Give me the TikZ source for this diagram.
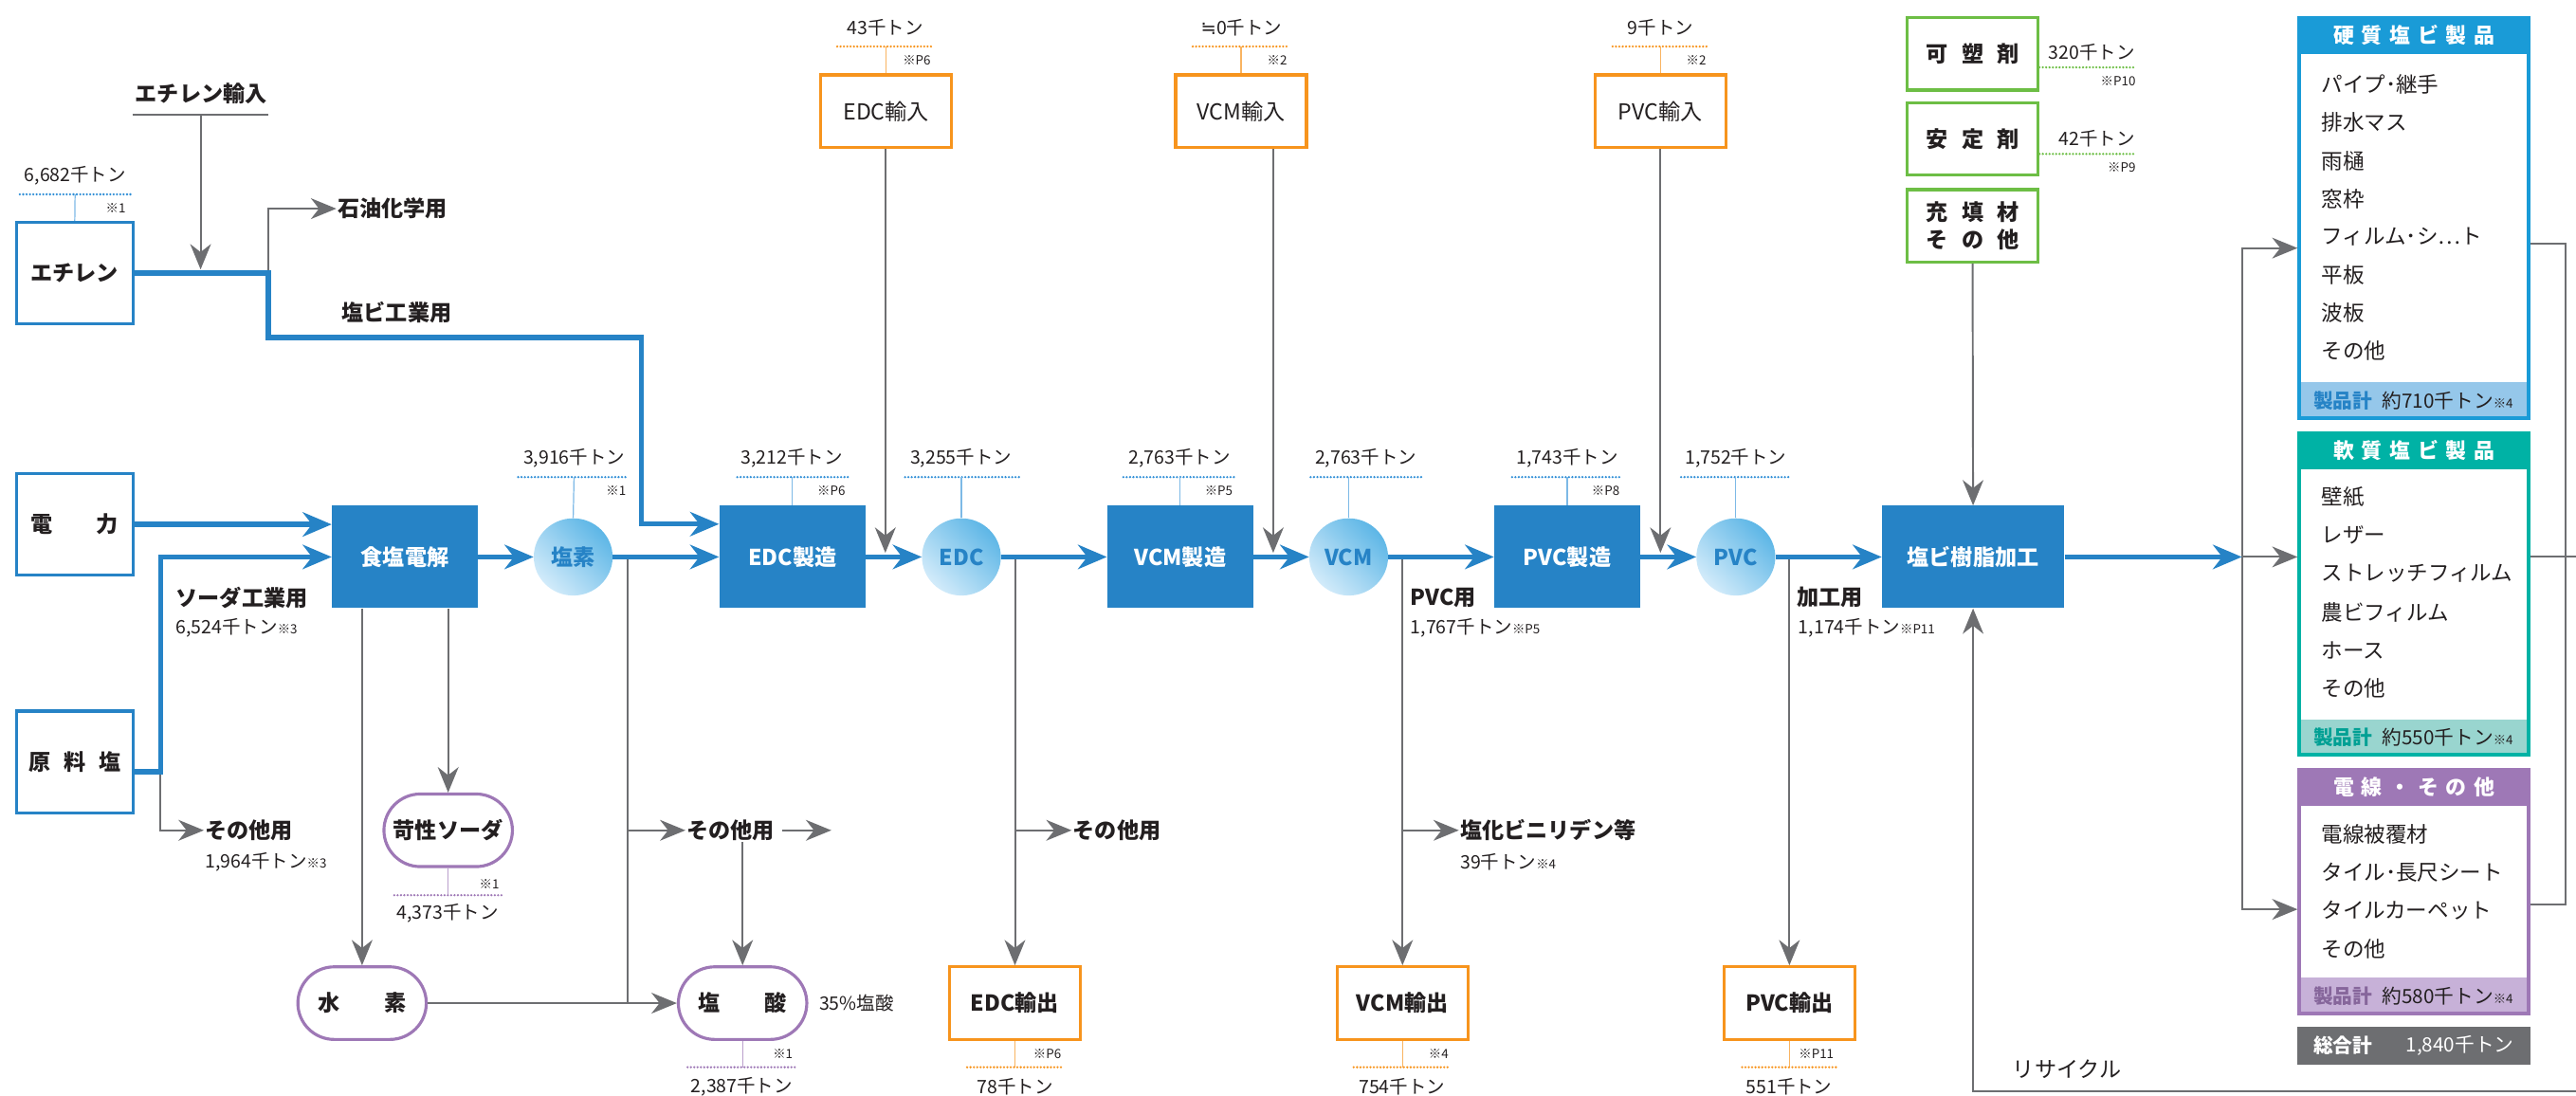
\documentclass[tikz,border=0pt]{standalone}
\usepackage{fontspec}
\setmainfont{Noto Sans CJK JP}
\newfontfamily\symfont{DejaVu Sans}
\usetikzlibrary{arrows.meta,shapes.geometric,shapes.misc,calc,positioning}

\definecolor{vcblue}{HTML}{2683C6}
\definecolor{vcdot}{HTML}{2F8ED6}
\definecolor{vcthin}{HTML}{7DB9E6}
\definecolor{vcorange}{HTML}{F7941D}
\definecolor{vcgreen}{HTML}{6DBE45}
\definecolor{vcpurple}{HTML}{9E78B6}
\definecolor{vcgrey}{HTML}{6D6E71}
\definecolor{vctext}{HTML}{231F20}
\definecolor{vccyan}{HTML}{1A9BD7}
\definecolor{vccyanlt}{HTML}{95C7EA}
\definecolor{vcteal}{HTML}{00B2A5}
\definecolor{vcteallt}{HTML}{99D5CF}
\definecolor{vcpurplelt}{HTML}{C7B1D8}
\definecolor{vcball}{HTML}{5DB6E6}
\definecolor{vcballlt}{HTML}{D2EBFA}

\newcommand{\kome}[1]{{\fontsize{11}{12}\selectfont ※#1}}

\tikzset{
  lbl/.style={font=\fontsize{19}{22}\selectfont\bfseries, text=vctext, inner sep=1pt},
  amt/.style={font=\fontsize{16}{18}\selectfont, text=vctext, inner sep=1pt},
  refnote/.style={font=\fontsize{11}{12}\selectfont, text=vctext, inner sep=0.5pt, anchor=east},
  srcbox/.style={lbl, draw=vcblue, line width=2.6pt, fill=white, minimum width=3.54cm, minimum height=3.1cm},
  procbox/.style={lbl, fill=vcblue, text=white, minimum width=4.45cm, minimum height=3.12cm},
  ball/.style={lbl, ellipse, inner sep=0pt, text=vcblue, minimum width=2.4cm, minimum height=2.35cm,
    top color=vcball, bottom color=vcballlt, shading angle=-45},
  inbox/.style={lbl, font=\fontsize{19}{22}\selectfont, draw=vcorange, line width=2.6pt, fill=white, minimum width=3.98cm, minimum height=2.21cm},
  outbox/.style={lbl, draw=vcorange, line width=2.6pt, fill=white, minimum width=3.98cm, minimum height=2.21cm},
  pill/.style={lbl, rounded rectangle, draw=vcpurple, line width=2.6pt, fill=white, minimum width=3.98cm, minimum height=2.21cm},
  addbox/.style={lbl, draw=vcgreen, line width=2.6pt, fill=white, minimum width=3.98cm, minimum height=2.21cm},
  prodbox/.style={anchor=north west, inner sep=0pt, outer sep=0pt, minimum width=7.1cm},
  headtxt/.style={font=\fontsize{18}{20}\selectfont\bfseries, text=white, inner sep=0pt},
  listitem/.style={font=\fontsize{18.5}{20}\selectfont, text=vctext, anchor=west, inner sep=0pt},
  sumtxt/.style={font=\fontsize{17}{20}\selectfont, text=vctext, anchor=west, inner sep=0pt},
  flow/.style={draw=vcblue, line width=4.4pt, -{Stealth[length=25pt, width=21pt, inset=8pt]}},
  feed/.style={draw=vcgrey, line width=1.6pt, -{Stealth[length=22pt, width=18pt, inset=7pt]}},
  feedline/.style={draw=vcgrey, line width=1.6pt},
  dotline/.style={line width=2.1pt, line cap=round, dash pattern=on 0pt off 2.9pt},
  linkline/.style={line width=1pt}
}

\begin{document}
\begin{tikzpicture}[x=0.05cm,y=-0.05cm]
\useasboundingbox (0,0) rectangle (1568,667);

% raw materials
\node[srcbox] (eth) at (45.5,166.3) {エチレン};
\node[srcbox] (elec) at (45.5,319.2) {電\hspace{2em}力};
\node[srcbox] (salt) at (45.5,463.8) {原\hspace{0.6em}料\hspace{0.6em}塩};

% main process row
\node[procbox] (brine) at (246.5,339) {食塩電解};
\node[ball] (cl) at (348.9,339) {塩素};
\node[procbox] (edcmk) at (482.3,339) {EDC製造};
\node[ball] (edc) at (585.2,339) {EDC};
\node[procbox] (vcmmk) at (718.4,339) {VCM製造};
\node[ball] (vcm) at (820.9,339) {VCM};
\node[procbox] (pvcmk) at (954,339) {PVC製造};
\node[ball] (pvc) at (1056.6,339) {PVC};
\node[procbox, minimum width=5.55cm] (resin) at (1201,339) {塩ビ樹脂加工};

% imports and exports
\node[inbox] (edcin) at (539.4,67.7) {EDC輸入};
\node[inbox] (vcmin) at (755.4,67.7) {VCM輸入};
\node[inbox] (pvcin) at (1010.7,67.7) {PVC輸入};
\node[outbox] (edcout) at (617.8,610.6) {EDC輸出};
\node[outbox] (vcmout) at (853.7,610.6) {VCM輸出};
\node[outbox] (pvcout) at (1089.2,610.6) {PVC輸出};

% by-products
\node[pill] (soda) at (272.8,505.4) {苛性ソーダ};
\node[pill] (hyd) at (220.4,610.6) {水\hspace{2em}素};
\node[pill] (hcl) at (452,610.6) {塩\hspace{2em}酸};

% additives
\node[addbox] (plast) at (1200.7,32.7) {可\hspace{0.6em}塑\hspace{0.6em}剤};
\node[addbox] (stab) at (1200.7,84.6) {安\hspace{0.6em}定\hspace{0.6em}剤};
\node[addbox, align=center, font=\fontsize{19}{24.5}\selectfont\bfseries] (filler) at (1200.7,137.5) {充\hspace{0.6em}填\hspace{0.6em}材\\そ\hspace{0.6em}の\hspace{0.6em}他};

% side labels
\node[lbl] (ethimp) at (122.5,56.7) {エチレン輸入};
\node[lbl, anchor=west] (petro) at (204.7,127) {石油化学用};
\node[lbl, anchor=west] (pvcuse) at (207.3,190.4) {塩ビ工業用};
\node[lbl, anchor=west] (sodause) at (106.3,363.6) {ソーダ工業用};
\node[amt, anchor=west] (sodaqty) at (106.3,382.4) {6,524千トン\kome{3}};
\node[lbl, anchor=west] (saltother) at (124.1,505.4) {その他用};
\node[amt, anchor=west] (saltqty) at (124.1,524.9) {1,964千トン\kome{3}};
\node[lbl, anchor=west] (clother) at (417.2,505.4) {その他用};
\node[lbl, anchor=west] (edcother) at (652.3,505.4) {その他用};
\node[lbl, anchor=west] (vcmuse) at (857.8,363.7) {PVC用};
\node[amt, anchor=west] (vcmqty) at (857.8,382.4) {1,767千トン\kome{P5}};
\node[lbl, anchor=west] (vdc) at (888,505.4) {塩化ビニリデン等};
\node[amt, anchor=west] (vdcqty) at (888,524.9) {39千トン\kome{4}};
\node[lbl, anchor=west] (procuse) at (1092.9,363.7) {加工用};
\node[amt, anchor=west] (procqty) at (1093.9,382.4) {1,174千トン\kome{P11}};
\node[amt, anchor=west] (hclpct) at (497.8,610.6) {35\%塩酸};
\node[lbl, font=\fontsize{19}{22}\selectfont, anchor=west] (recyc) at (1224.3,651) {リサイクル};

% amounts: ethylene
\node[amt] (ethqty) at (45.8,106.8) {6,682千トン};
\draw[dotline,vcdot] (12.1,118.3) -- (79.5,118.3);
\node[refnote] (ethref) at (77,126.6) {※1};
\coordinate (ethtop) at (45.7,118.3);
\draw[linkline,vcthin] (ethtop) -- (eth.north);

% amounts: process row
\node[amt] (clqty) at (349.5,279) {3,916千トン};
\draw[dotline,vcdot] (315.4,290.4) -- (382.6,290.4);
\node[refnote] (clref) at (381.5,298.7) {※1};
\coordinate (cltop) at (349.4,290.4);
\draw[linkline,vcthin] (cltop) -- (cl.north);

\node[amt] (edcmkqty) at (482,279) {3,212千トン};
\draw[dotline,vcdot] (448.8,290.4) -- (516.1,290.4);
\node[refnote] (edcmkref) at (515,298.7) {※P6};
\coordinate (edcmktop) at (482.3,290.4);
\draw[linkline,vcthin] (edcmktop) -- (edcmk.north);

\node[amt] (edcqty) at (585,279) {3,255千トン};
\draw[dotline,vcdot] (550.9,290.4) -- (621.8,290.4);
\coordinate (edctop) at (585.2,290.4);
\draw[linkline,vcthin] (edctop) -- (edc.north);

\node[amt] (vcmmkqty) at (718,279) {2,763千トン};
\draw[dotline,vcdot] (683.8,290.4) -- (752.6,290.4);
\node[refnote] (vcmmkref) at (750.8,298.7) {※P5};
\coordinate (vcmmktop) at (718.4,290.4);
\draw[linkline,vcthin] (vcmmktop) -- (vcmmk.north);

\node[amt] (vcmqty2) at (831.4,279) {2,763千トン};
\draw[dotline,vcdot] (797.8,290.4) -- (866,290.4);
\coordinate (vcmtop) at (820.9,290.4);
\draw[linkline,vcthin] (vcmtop) -- (vcm.north);

\node[amt] (pvcmkqty) at (954,279) {1,743千トン};
\draw[dotline,vcdot] (920.4,290.4) -- (987.5,290.4);
\node[refnote] (pvcmkref) at (986.3,298.7) {※P8};
\coordinate (pvcmktop) at (954,290.4);
\draw[linkline,vcthin] (pvcmktop) -- (pvcmk.north);

\node[amt] (pvcqty) at (1056.6,279) {1,752千トン};
\draw[dotline,vcdot] (1023.3,290.4) -- (1090.4,290.4);
\coordinate (pvctop) at (1056.6,290.4);
\draw[linkline,vcthin] (pvctop) -- (pvc.north);

% amounts: imports
\node[amt] (edcinqty) at (538.9,16.9) {43千トン};
\draw[dotline,vcorange] (509.6,28.3) -- (568.4,28.3);
\node[refnote] (edcinref) at (567,36.5) {※P6};
\coordinate (edcintop) at (539.4,28.3);
\draw[linkline,vcorange!70] (edcintop) -- (edcin.north);

\node[amt] (vcminqty) at (755.7,16.9) {{\symfont ≒}0千トン};
\draw[dotline,vcorange] (726,28.3) -- (784.9,28.3);
\node[refnote] (vcminref) at (783.9,36.5) {※2};
\coordinate (vcmintop) at (755.4,28.3);
\draw[linkline,vcorange!70] (vcmintop) -- (vcmin.north);

\node[amt] (pvcinqty) at (1010.8,16.9) {9千トン};
\draw[dotline,vcorange] (981.6,28.3) -- (1040.1,28.3);
\node[refnote] (pvcinref) at (1039,36.5) {※2};
\coordinate (pvcintop) at (1010.7,28.3);
\draw[linkline,vcorange!70] (pvcintop) -- (pvcin.north);

% amounts: exports and by-products
\coordinate (hclbot) at (452,649.6);
\draw[linkline,vcpurple!70] (hcl.south) -- (hclbot);
\draw[dotline,vcpurple] (418.5,649.6) -- (485.5,649.6);
\node[refnote] (hclref) at (483,641.7) {※1};
\node[amt] (hclqty) at (451.5,661.5) {2,387千トン};

\coordinate (edcoutbot) at (617.8,649.6);
\draw[linkline,vcorange!70] (edcout.south) -- (edcoutbot);
\draw[dotline,vcorange] (588.7,649.6) -- (647.5,649.6);
\node[refnote] (edcoutref) at (646.4,641.7) {※P6};
\node[amt] (edcoutqty) at (617.8,661.5) {78千トン};

\coordinate (vcmoutbot) at (853.7,649.6);
\draw[linkline,vcorange!70] (vcmout.south) -- (vcmoutbot);
\draw[dotline,vcorange] (824,649.6) -- (882.6,649.6);
\node[refnote] (vcmoutref) at (882.2,641.7) {※4};
\node[amt] (vcmoutqty) at (853.4,661.5) {754千トン};

\coordinate (pvcoutbot) at (1089.2,649.6);
\draw[linkline,vcorange!70] (pvcout.south) -- (pvcoutbot);
\draw[dotline,vcorange] (1060.4,649.6) -- (1118.3,649.6);
\node[refnote] (pvcoutref) at (1116.7,641.7) {※P11};
\node[amt] (pvcoutqty) at (1089,661.5) {551千トン};

\coordinate (sodabot) at (272.8,544.9);
\draw[linkline,vcpurple!70] (soda.south) -- (sodabot);
\draw[dotline,vcpurple] (240,544.9) -- (306,544.9);
\node[refnote] (sodaref) at (304.3,538) {※1};
\node[amt] (sodaqty2) at (272.5,556) {4,373千トン};

% amounts: additives
\node[amt, anchor=east] (plastqty) at (1300.4,31.7) {320千トン};
\coordinate (plastdot) at (1299.4,41);
\draw[dotline,vcgreen] (plast.east |- plastdot) -- (plastdot);
\node[refnote] (plastref) at (1300.4,49.6) {※P10};
\node[amt, anchor=east] (stabqty) at (1300.4,84.6) {42千トン};
\coordinate (stabdot) at (1299.4,93.7);
\draw[dotline,vcgreen] (stab.east |- stabdot) -- (stabdot);
\node[refnote] (stabref) at (1300.4,102) {※P9};

% product boxes
\node[prodbox, fill=vccyan, minimum height=12.275cm] (rigid) at (1398.5,10) {};
\fill[white] ($(rigid.north west)+(2.3,23.1)$) rectangle ($(rigid.south east)+(-2.3,-23.1)$);
\fill[vccyanlt] ($(rigid.south west)+(2.3,-23.1)$) rectangle ($(rigid.south east)+(-2.3,-2.3)$);
\node[headtxt] (rigidhd) at ($(rigid.north)+(0,11.6)$) {硬\hspace{.35em}質\hspace{.35em}塩\hspace{.35em}ビ\hspace{.35em}製\hspace{.35em}品};
\node[listitem] (r1) at (1412.9,51.6) {パイプ･継手};
\node[listitem] (r2) at (1412.9,74.7) {排水マス};
\node[listitem] (r3) at (1412.9,97.8) {雨樋};
\node[listitem] (r4) at (1412.9,120.9) {窓枠};
\node[listitem] (r5) at (1412.9,144) {フィルム･シ⋯ト};
\node[listitem] (r6) at (1412.9,167.1) {平板};
\node[listitem] (r7) at (1412.9,190.2) {波板};
\node[listitem] (r8) at (1412.9,213.3) {その他};
\node[sumtxt] (rigidsum) at (1408,244) {\textcolor{vcblue}{\bfseries 製品計}\hspace{0.5em}約710千トン\kome{4}};

\node[prodbox, fill=vcteal, minimum height=9.875cm] (soft) at (1398.5,262.8) {};
\fill[white] ($(soft.north west)+(2.3,22.9)$) rectangle ($(soft.south east)+(-2.3,-22.5)$);
\fill[vcteallt] ($(soft.south west)+(2.3,-22.5)$) rectangle ($(soft.south east)+(-2.3,-2.3)$);
\node[headtxt] (softhd) at ($(soft.north)+(0,11.5)$) {軟\hspace{.35em}質\hspace{.35em}塩\hspace{.35em}ビ\hspace{.35em}製\hspace{.35em}品};
\node[listitem] (s1) at (1412.9,302.6) {壁紙};
\node[listitem] (s2) at (1412.9,325.9) {レザー};
\node[listitem] (s3) at (1412.9,349.2) {ストレッチフィルム};
\node[listitem] (s4) at (1412.9,372.5) {農ビフィルム};
\node[listitem] (s5) at (1412.9,395.8) {ホース};
\node[listitem] (s6) at (1412.9,419.1) {その他};
\node[sumtxt] (softsum) at (1408,449) {\textcolor{vcteal!90!black}{\bfseries 製品計}\hspace{0.5em}約550千トン\kome{4}};

\node[prodbox, fill=vcpurple, minimum height=7.51cm] (wire) at (1398.5,467.7) {};
\fill[white] ($(wire.north west)+(2.3,22.8)$) rectangle ($(wire.south east)+(-2.3,-22.9)$);
\fill[vcpurplelt] ($(wire.south west)+(2.3,-22.9)$) rectangle ($(wire.south east)+(-2.3,-2.3)$);
\node[headtxt] (wirehd) at ($(wire.north)+(0,11.4)$) {電\hspace{.35em}線\hspace{.35em}・\hspace{.35em}そ\hspace{.35em}の\hspace{.35em}他};
\node[listitem] (w1) at (1412.9,508) {電線被覆材};
\node[listitem] (w2) at (1412.9,531.2) {タイル･長尺シート};
\node[listitem] (w3) at (1412.9,554.4) {タイルカーペット};
\node[listitem] (w4) at (1412.9,577.6) {その他};
\node[sumtxt] (wiresum) at (1408,606.5) {\textcolor{vcpurple!85!black}{\bfseries 製品計}\hspace{0.5em}約580千トン\kome{4}};

\node[prodbox, fill=vcgrey, minimum height=1.14cm] (total) at (1398.5,625) {};
\node[sumtxt, text=white, font=\fontsize{17}{20}\selectfont\bfseries] (totlbl) at (1408,636.4) {総合計};
\node[sumtxt, text=white, anchor=east] (totqty) at (1530.3,636.4) {1,840千トン};

% grey branches
\coordinate (ethk) at (163.4,166.3);
\coordinate (ethk2) at (390.3,205.4);
\coordinate (saltk) at (97.8,469.8);
\coordinate (clk) at (382,339);
\coordinate (clend) at (506,505.4);
\coordinate (ethimpu) at (122.1,69.6);
\coordinate (ethjoin) at (122.1,164);
\draw[feedline] ([xshift=-2.075cm]ethimpu) -- ([xshift=2.065cm]ethimpu);
\draw[feed] (ethk) |- (petro.west);
\draw[feed] (saltk) |- (saltother.west);
\draw[feed] (brine.south -| hyd.north) -- (hyd.north);
\draw[feed] (brine.south -| soda.north) -- (soda.north);
\draw[feedline] (clk) -- (clk |- hyd.east);
\draw[feed] (hyd.east) -- (hcl.west);
\draw[feed] (clk |- clother.west) -- (clother.west);
\draw[feed] ([xshift=0.2cm]clother.east) -- (clend);
\draw[feed] (hcl.north |- clother.south) -- (hcl.north);
\draw[feed] (edcout.north |- edc.east) -- (edcout.north);
\draw[feed] (edcout.north |- edcother.west) -- (edcother.west);
\draw[feed] (vcmout.north |- vcm.east) -- (vcmout.north);
\draw[feed] (vcmout.north |- vdc.west) -- (vdc.west);
\draw[feed] (pvcout.north |- pvc.east) -- (pvcout.north);

% main flow
\draw[flow] (eth.east) -- (ethk) |- (ethk2) |- ([yshift=1cm]edcmk.west);
\draw[flow] (elec.east) -- (elec.east -| brine.west);
\draw[flow] (salt.east |- saltk) -- (saltk) |- (brine.west);
\draw[flow] (brine.east) -- (cl.west);
\draw[flow] (cl.east) -- (edcmk.west);
\draw[flow] (edcmk.east) -- (edc.west);
\draw[flow] (edc.east) -- (vcmmk.west);
\draw[flow] (vcmmk.east) -- (vcm.west);
\draw[flow] (vcm.east) -- (pvcmk.west);
\draw[flow] (pvcmk.east) -- (pvc.west);
\draw[flow] (pvc.east) -- (resin.west);

% feeds into the main flow
\coordinate (edcjoin) at (538.9,336.5);
\coordinate (vcmjoin) at (775,336.5);
\coordinate (pvcjoin) at (1010.7,336.5);
\draw[feed] (ethimpu) -- (ethjoin);
\draw[feed] (edcin.south -| edcjoin) -- (edcjoin);
\draw[feed] (vcmin.south -| vcmjoin) -- (vcmjoin);
\draw[feed] (pvcin.south) -- (pvcjoin);
\draw[feed] (filler.south) -- (resin.north);

% products and recycling
\coordinate (hub) at (1364.6,339);
\coordinate (rigidin) at (1398.5,151);
\coordinate (wirein) at (1398.5,553.5);
\coordinate (rigidout) at (1540.5,148.1);
\coordinate (wireout) at (1540.5,550.8);
\coordinate (brk) at (1561.6,148.1);
\coordinate (softexit) at (1570,339);
\coordinate (recin) at (1570,664);
\draw[feed] (hub) |- (rigidin);
\draw[feed] (hub) |- (wirein);
\draw[feed] (hub) -- (soft.west |- hub);
\draw[flow] (resin.east) -- (hub);
\draw[feedline] (rigidout) -- (brk) |- (wireout);
\draw[feedline] (soft.east |- hub) -- (softexit);
\draw[feed] (recin) -| (resin.south);
\end{tikzpicture}
\end{document}
